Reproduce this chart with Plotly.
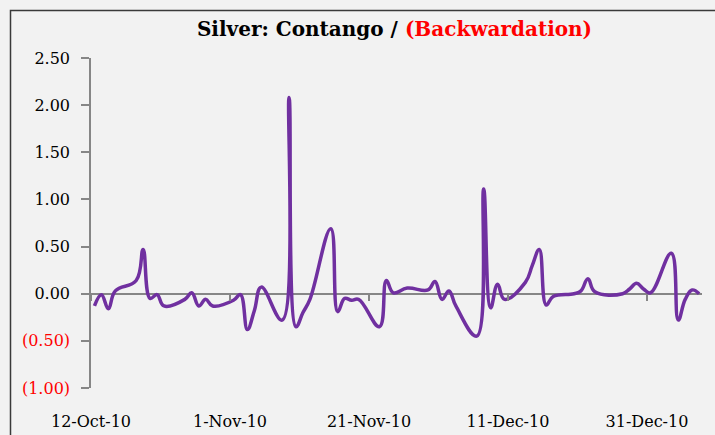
import plotly.graph_objects as go
import pandas as pd

# ---- data ----
dates = [
    "2010-10-12", "2010-10-13", "2010-10-14", "2010-10-15", "2010-10-18", "2010-10-19",
    "2010-10-20", "2010-10-21", "2010-10-22", "2010-10-25", "2010-10-26", "2010-10-27",
    "2010-10-28", "2010-10-29", "2010-11-01", "2010-11-02", "2010-11-03", "2010-11-04",
    "2010-11-05", "2010-11-08", "2010-11-09", "2010-11-10", "2010-11-11", "2010-11-12",
    "2010-11-15", "2010-11-16", "2010-11-17", "2010-11-18", "2010-11-19", "2010-11-22",
    "2010-11-23", "2010-11-24", "2010-11-26", "2010-11-29", "2010-11-30", "2010-12-01",
    "2010-12-02", "2010-12-03", "2010-12-06", "2010-12-07", "2010-12-08", "2010-12-09",
    "2010-12-10", "2010-12-13", "2010-12-14", "2010-12-15", "2010-12-16", "2010-12-17",
    "2010-12-20", "2010-12-21", "2010-12-22", "2010-12-23", "2010-12-27", "2010-12-28",
    "2010-12-29", "2010-12-30", "2010-12-31", "2011-01-03", "2011-01-04", "2011-01-05",
    "2011-01-06", "2011-01-07",
]
values = [
    -0.13, -0.01, -0.16, 0.03, 0.14, 0.47,
    -0.05, -0.01, -0.13, -0.06, 0.01, -0.13,
    -0.06, -0.13, -0.07, -0.01, -0.38, -0.18,
    0.07, -0.28, 2.08, -0.35, -0.20, -0.06,
    0.69, -0.19, -0.05, -0.07, -0.06, -0.35,
    0.14, 0.01, 0.06, 0.04, 0.13, -0.06,
    0.03, -0.13, -0.45, 1.11, -0.15, 0.10,
    -0.06, 0.12, 0.30, 0.47, -0.12, -0.03,
    0.00, 0.03, 0.16, 0.02, 0.00, 0.05,
    0.11, 0.05, 0.01, 0.43, -0.28, -0.06,
    0.04, 0.00,
]
x_tick_dates = ["2010-10-12", "2010-11-01", "2010-11-21", "2010-12-11", "2010-12-31"]
x_tick_labels = ["12-Oct-10", "1-Nov-10", "21-Nov-10", "11-Dec-10", "31-Dec-10"]
y_tick_vals = [-1.0, -0.5, 0.0, 0.5, 1.0, 1.5, 2.0, 2.5]
y_tick_labels = ["(1.00)", "(0.50)", "0.00", "0.50", "1.00", "1.50", "2.00", "2.50"]

# ---- styling ----
FONT = "DejaVu Serif"
GRAY = "#868686"
half_day = pd.Timedelta(hours=12)
x_start = pd.Timestamp("2010-10-12") - half_day
x_end = pd.Timestamp("2011-01-07 10:00")
tickvals = [pd.Timestamp(d) - half_day for d in x_tick_dates]
y_ticktext = [
    f"<span style='color:#FF0000'>{t}</span>" if v < 0 else t
    for v, t in zip(y_tick_vals, y_tick_labels)
]
x_dates = pd.to_datetime(dates)

fig = go.Figure()
fig.add_trace(go.Scatter(
    x=x_dates, y=values, mode="lines",
    line=dict(color="#7030A0", width=3.5, shape="spline", smoothing=1.2),
    showlegend=False,
))
# invisible copy on the overlay axis that carries the tick marks on the zero line
fig.add_trace(go.Scatter(
    x=x_dates, y=values, mode="lines", xaxis="x2",
    line=dict(color="rgba(0,0,0,0)", width=0), hoverinfo="skip", showlegend=False,
))

L, R, T, B = 91, 13, 58, 47
W, H = 715, 435
pw, ph = W - L - R, H - T - B

fig.update_layout(
    width=W, height=H,
    margin=dict(l=L, r=R, t=T, b=B, pad=0, autoexpand=False),
    paper_bgcolor="#F2F2F2", plot_bgcolor="#F2F2F2",
    showlegend=False,
    title=dict(
        text="<b>Silver: Contango / <span style='color:#FF0000'>(Backwardation)</span></b>",
        x=394.5 / W, xref="container", xanchor="center",
        y=1 - 29 / H, yref="container", yanchor="middle",
        font=dict(family=FONT, size=20, color="black"),
        automargin=False,
    ),
    xaxis=dict(
        type="date", range=[x_start, x_end], automargin=False,
        tickvals=tickvals, ticktext=x_tick_labels,
        ticks="", showline=False, showgrid=False, zeroline=False,
        tickfont=dict(family=FONT, size=16, color="black"),
        ticklabelstandoff=22,
    ),
    xaxis2=dict(
        type="date", range=[x_start, x_end], overlaying="x", automargin=False,
        anchor="free", position=(388 - 294) / ph,
        tickvals=tickvals, ticks="outside", ticklen=6, tickwidth=1.5, tickcolor=GRAY,
        showticklabels=False, showline=False, showgrid=False, zeroline=False,
    ),
    yaxis=dict(
        range=[-1, 2.5], tickvals=y_tick_vals, ticktext=y_ticktext, automargin=False,
        ticks="outside", ticklen=8, tickwidth=1.5, tickcolor=GRAY,
        showline=True, linecolor=GRAY, linewidth=1.5,
        zeroline=True, zerolinecolor=GRAY, zerolinewidth=1.5,
        showgrid=False,
        tickfont=dict(family=FONT, size=16, color="black"),
        ticklabelstandoff=8,
    ),
    shapes=[dict(
        type="rect", xref="paper", yref="paper",
        x0=(10.5 - L) / pw, x1=1.5, y0=-0.5, y1=(H - B - 10.5) / ph,
        line=dict(color="#3a3a3a", width=1.5), fillcolor="rgba(0,0,0,0)",
        layer="above",
    )],
)

fig.write_html(
    "out.html",
    config={"displayModeBar": False},
    post_script="document.body.style.margin='0';document.body.style.overflow='hidden';",
)
